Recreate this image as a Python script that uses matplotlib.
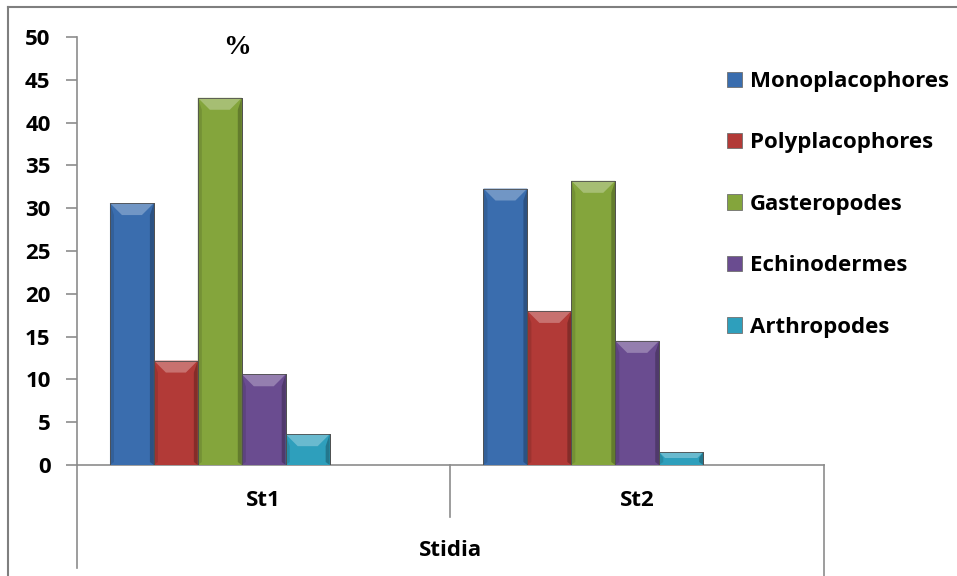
import matplotlib
matplotlib.use("Agg")
import matplotlib.pyplot as plt
from matplotlib.patches import Polygon, Rectangle
from matplotlib.lines import Line2D
import matplotlib.colors as mcolors
import numpy as np

plt.rcParams['font.family'] = ['Open Sans', 'DejaVu Sans']

categories = ["St1", "St2"]
series_names = ["Monoplacophores", "Polyplacophores", "Gasteropodes", "Echinodermes", "Arthropodes"]
monoplacophores = [30.6, 32.3]
polyplacophores = [12.2, 18.0]
gasteropodes = [42.9, 33.2]
echinodermes = [10.6, 14.5]
arthropodes = [3.6, 1.5]
values = [monoplacophores, polyplacophores, gasteropodes, echinodermes, arthropodes]
colors = ["#3A6DAE", "#B23A37", "#84A53C", "#6A4C90", "#2E9FBC"]
yticks = [0, 5, 10, 15, 20, 25, 30, 35, 40, 45, 50]
axis_title = "Stidia"
unit_label = "%"

W, H = 957, 576
fig = plt.figure(figsize=(W / 100, H / 100), dpi=100)

def fx(px):
    return px / W

def fy(py):
    return 1 - py / H

ax = fig.add_axes([fx(77), fy(465), fx(824) - fx(77), fy(37) - fy(465)])

gray = "#8C8C8C"
n_slots = 7
bw = 1.0 / (n_slots + 1.5)
x = np.arange(len(categories))

def shade(c, f):
    r, g, b = mcolors.to_rgb(c)
    if f >= 0:
        return (r + (1 - r) * f, g + (1 - g) * f, b + (1 - b) * f)
    f = -f
    return (r * (1 - f), g * (1 - f), b * (1 - f))

ax.set_xlim(-0.5, len(categories) - 0.5)
ax.set_ylim(0, 50)

px_per_x = (824 - 77) / len(categories)
px_per_y = (465 - 37) / 50.0
bev_px = 12

FS = 16
legend_handles = []
for i, (name, vals, col) in enumerate(zip(series_names, values, colors)):
    offs = (i - (n_slots - 1) / 2) * bw
    bars = ax.bar(x + offs, vals, width=bw, color=col, edgecolor="#4a4a4a",
                  linewidth=0.6, zorder=3)
    for p in bars.patches:
        x0, w, h = p.get_x(), p.get_width(), p.get_height()
        x1 = x0 + w
        by = min(bev_px / px_per_y, h / 2.2)
        bxx = by * px_per_y / px_per_x
        top = Polygon([[x0, h], [x1, h], [x1 - bxx, h - by], [x0 + bxx, h - by]],
                      closed=True, facecolor=shade(col, 0.28), edgecolor="none", zorder=4)
        ax.add_patch(top)
        sx = 4 / px_per_x
        sl = Polygon([[x0, h], [x0 + sx, h - by], [x0 + sx, 0.35], [x0, 0]],
                     closed=True, facecolor=shade(col, -0.12), edgecolor="none", zorder=4)
        sr = Polygon([[x1, h], [x1 - sx, h - by], [x1 - sx, 0.35], [x1, 0]],
                     closed=True, facecolor=shade(col, -0.25), edgecolor="none", zorder=4)
        ax.add_patch(sl)
        ax.add_patch(sr)
        ax.add_patch(Rectangle((x0, 0), w, h, fill=False, edgecolor="#505050",
                               linewidth=0.6, zorder=5))
    legend_handles.append(Rectangle((0, 0), 1, 1, facecolor=col, edgecolor="#707070", linewidth=0.6))

for s in ["top", "right"]:
    ax.spines[s].set_visible(False)
ax.spines["left"].set_color(gray)
ax.spines["bottom"].set_color(gray)
ax.spines["left"].set_linewidth(1.2)
ax.spines["bottom"].set_linewidth(1.2)
ax.set_yticks(yticks)
ax.set_yticklabels([str(t) for t in yticks], fontsize=FS, fontweight="bold")
ax.tick_params(axis="y", direction="out", length=8, width=1.2, color=gray, pad=11)
ax.set_xticks([])

fig.add_artist(Line2D([fx(77), fx(77)], [fy(465), fy(568)], color=gray, lw=1.2))
fig.add_artist(Line2D([fx(450), fx(450)], [fy(465), fy(517)], color=gray, lw=1.2))
fig.add_artist(Line2D([fx(824), fx(824)], [fy(465), fy(576)], color=gray, lw=1.2))
for xi, cat in zip(x, categories):
    ax.text(xi, -35 / px_per_y, cat, ha="center", va="center", fontsize=FS,
            fontweight="bold", clip_on=False)
ax.text(np.mean(x), -86 / px_per_y, axis_title, ha="center", va="center", fontsize=FS,
        fontweight="bold", clip_on=False)

fig.text(fx(237), fy(47), unit_label, ha="center", va="center", fontsize=20,
         fontweight="bold", family="Liberation Serif")

fig.add_artist(Line2D([fx(8), fx(8)], [fy(7), 0], color="#7f7f7f", lw=1.5))
fig.add_artist(Line2D([fx(8), 1], [fy(7), fy(7)], color="#7f7f7f", lw=1.5))

leg = fig.legend(legend_handles, series_names, loc="upper left",
                 bbox_to_anchor=(fx(727), fy(71)), frameon=False,
                 prop={"size": FS, "weight": "bold"}, handlelength=0.68,
                 handleheight=0.68, handletextpad=0.35, labelspacing=1.82,
                 borderaxespad=0, borderpad=0)

fig.savefig("out.png", dpi=100)
